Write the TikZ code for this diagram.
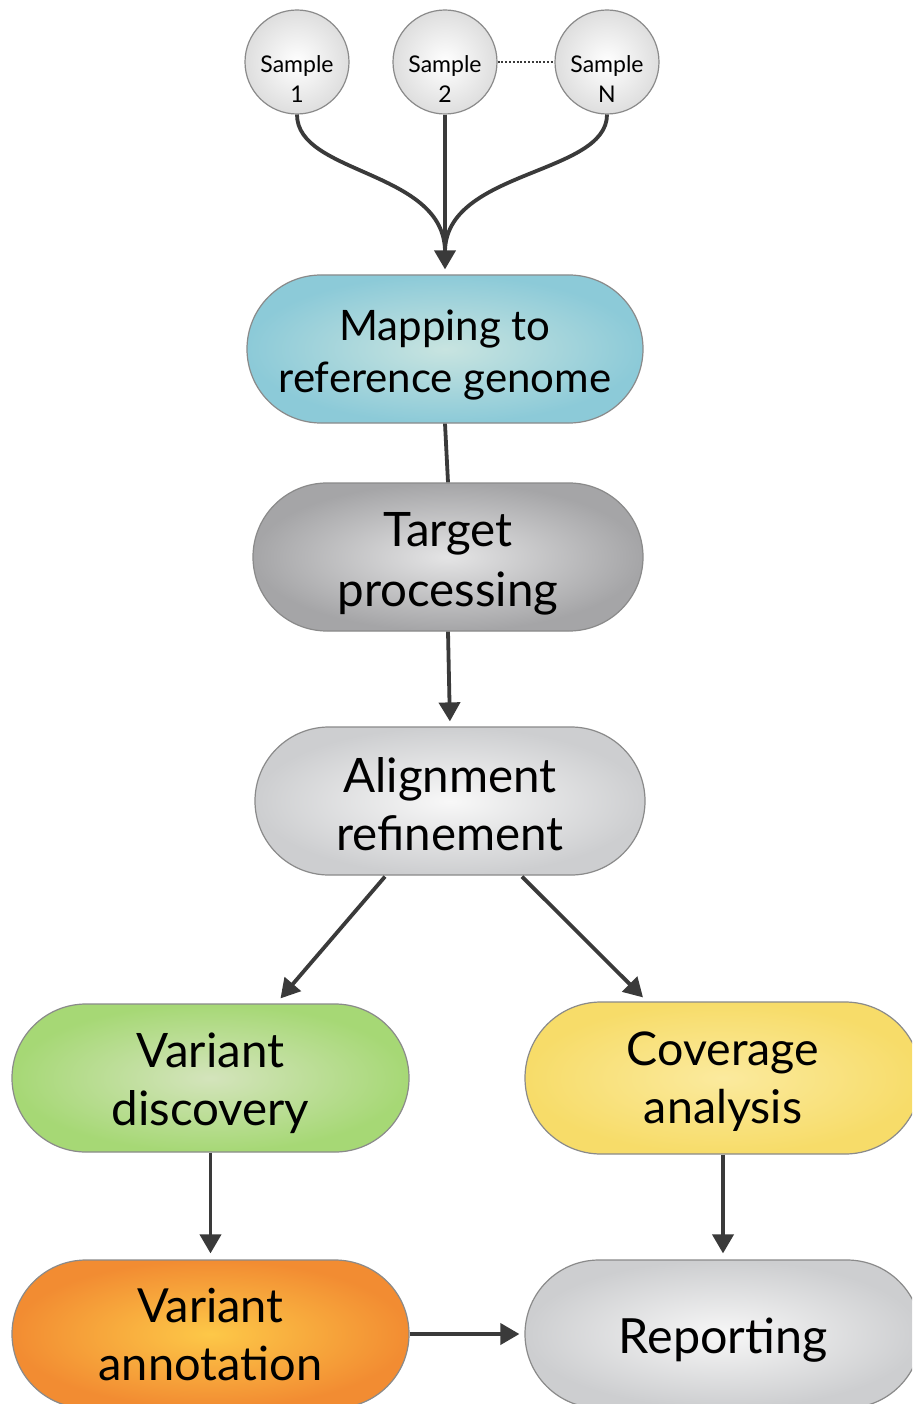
\documentclass[tikz,border=0pt]{standalone}
\usepackage{fontspec}
\setmainfont{Lato}
\usetikzlibrary{shapes.misc,arrows.meta,calc}
\definecolor{bordc}{HTML}{8A8A8A}
\definecolor{arrc}{HTML}{3A3A3A}
\tikzset{
  stadium/.style={rounded rectangle, draw=bordc, line width=1.2pt, minimum width=396pt, minimum height=148pt, inner sep=0pt, shading=radial},
  boxtext/.style={inner sep=0pt, align=center, text=black},
  samplec/.style={circle, draw=bordc, line width=1.2pt, minimum size=104pt, inner sep=0pt, shading=radial, inner color=white, outer color=black!13},
  sampletext/.style={inner sep=0pt, align=center, font=\fontsize{23}{30}\selectfont},
  conn/.style={draw=arrc, line width=3.8pt},
  arr/.style={conn, -{Triangle[length=19pt,width=21pt]}},
}
\begin{document}
\begin{tikzpicture}[x=1pt,y=-1pt]
\useasboundingbox (0,0) rectangle (912,1404);
\clip (0,0) rectangle (912,1404);
\fill[white] (0,0) rectangle (912,1404);

% samples
\node[samplec] (s1) at (297,62) {};
\node[samplec] (s2) at (445,62) {};
\node[samplec] (sN) at (607,62) {};
\node[sampletext] (s1t) at (297,79) {Sample\\1};
\node[sampletext] (s2t) at (445,79) {Sample\\2};
\node[sampletext] (sNt) at (607,79) {Sample\\N};
\draw[arrc, line width=2pt, dash pattern=on 2pt off 1.8pt] (s2.east) -- (sN.west);

% main boxes
\node[stadium, inner color={rgb,255:red,200;green,228;blue,224}, outer color={rgb,255:red,140;green,202;blue,216}] (m) at (445,349) {};
\node[boxtext, font=\fontsize{42}{52}\selectfont] (mt) at (445,355) {Mapping to\\reference genome};

\node[stadium, minimum width=390pt, inner color={rgb,255:red,228;green,228;blue,229}, outer color={rgb,255:red,165;green,165;blue,167}] (t) at (448,557) {};
\node[boxtext, font=\fontsize{47.5}{60}\selectfont] (tt) at (448,564) {Target\\processing};

\node[stadium, minimum width=390pt, inner color={rgb,255:red,248;green,248;blue,248}, outer color={rgb,255:red,205;green,206;blue,208}] (a) at (450,801) {};
\node[boxtext, font=\fontsize{47.5}{58}\selectfont] (at) at (450,804) {Alignment\\refinement};

\node[stadium, minimum width=397pt, inner color={rgb,255:red,212;green,228;blue,188}, outer color={rgb,255:red,166;green,216;blue,117}] (vd) at (210.5,1078) {};
\node[boxtext, font=\fontsize{47.5}{58}\selectfont] (vdt) at (210.5,1083) {Variant\\discovery};

\node[stadium, minimum width=396pt, minimum height=152pt, inner color={rgb,255:red,251;green,234;blue,158}, outer color={rgb,255:red,247;green,220;blue,105}] (ca) at (723,1078) {};
\node[boxtext, font=\fontsize{46.5}{58}\selectfont] (cat) at (723,1082) {Coverage\\analysis};

\node[stadium, minimum width=397pt, inner color={rgb,255:red,253;green,200;blue,72}, outer color={rgb,255:red,242;green,140;blue,50}] (van) at (210.5,1334) {};
\node[boxtext, font=\fontsize{47}{58}\selectfont] (vant) at (210.5,1335) {Variant\\annotation};

\node[stadium, minimum width=396pt, inner color={rgb,255:red,247;green,247;blue,247}, outer color={rgb,255:red,205;green,206;blue,208}] (rep) at (723,1334) {};
\node[boxtext, font=\fontsize{48.5}{58}\selectfont] (rept) at (723,1340) {Reporting};

% connectors
\coordinate (j) at (445,252);
\draw[conn] (s1.south) .. controls (297,175) and (445,170) .. (j);
\draw[conn] (sN.south) .. controls (607,175) and (445,170) .. (j);
\draw[arr, shorten >=5pt] (s2.south) -- (m.north);
\draw[conn] (m.south) -- (t.north);
\draw[arr, shorten >=5pt] (t.south) -- (a.north);
\draw[arr] ($(a.south)+(-65,1)$) -- ($(vd.north)+(70,-5)$);
\draw[arr] ($(a.south)+(72,1)$) -- ($(ca.north)+(-80,-4)$);
\draw[arr, shorten >=6pt] (vd.south) -- (van.north);
\draw[arr, shorten >=6pt] (ca.south) -- (rep.north);
\draw[arr, shorten >=5pt] (van.east) -- (rep.west);
\end{tikzpicture}
\end{document}
